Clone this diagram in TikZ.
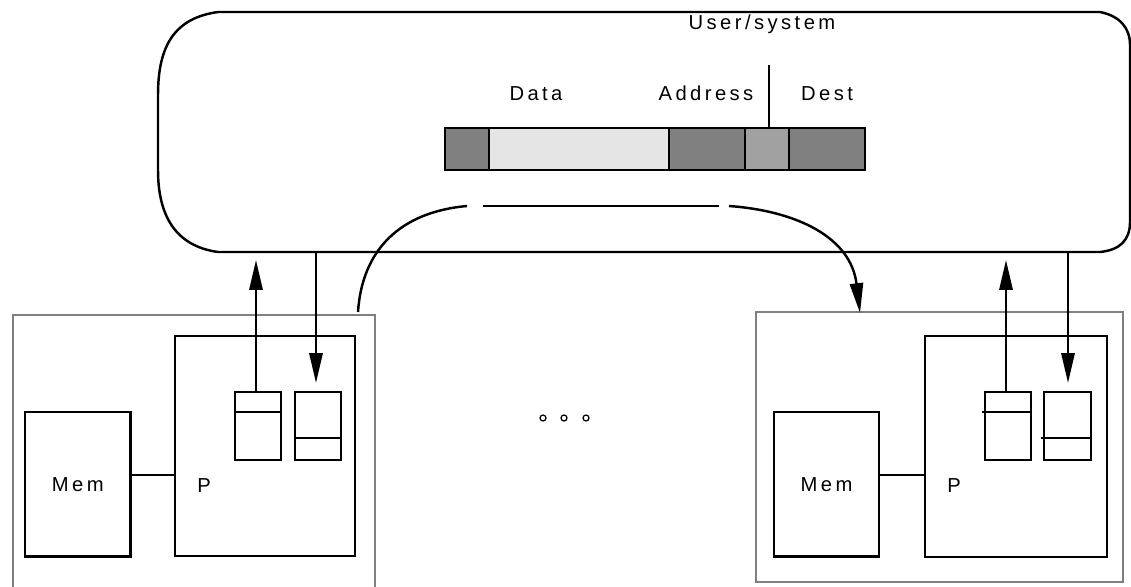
\documentclass[tikz,border=0pt]{standalone}
\usepackage{fontspec}
\newfontfamily\lblfont{Liberation Sans}[LetterSpace=17]
\usetikzlibrary{
	arrows.meta,
	positioning
}

\begin{document}
\begin{tikzpicture}[
	x=0.02cm, y=-0.02cm,
	txt/.style={font=\lblfont\fontsize{11.5}{13}\selectfont, inner sep=0pt},
	line/.style={line width=1.4pt, black},
	hostbox/.style={
		rectangle, draw=black!50, line width=1.3pt,
		anchor=north west, outer sep=0pt
	},
	procbox/.style={
		rectangle, draw, line width=1.4pt,
		anchor=north west, outer sep=0pt
	},
	membox/.style={procbox, txt, minimum width=2.11cm, minimum height=2.89cm},
	regbox/.style={procbox, minimum width=0.92cm, minimum height=1.36cm},
	field/.style={
		rectangle, draw, line width=1.4pt,
		minimum height=0.84cm, inner sep=0pt, outer sep=0pt
	},
	darkfield/.style={field, fill=black!50},
	arrow/.style={-{Triangle[length=17pt,width=7.5pt]}, line width=1.4pt, black},
	dot/.style={circle, draw, line width=0.7pt, minimum size=0.12cm, inner sep=0pt}
	]
	\useasboundingbox (0,0) rectangle (1131,586);
	
	% network
	\draw[line] (218,12) -- (1100,12)
		.. controls (1120,16) and (1130,28) .. (1130,45) -- (1130,222)
		.. controls (1130,240) and (1120,250) .. (1100,252) -- (218,252)
		.. controls (175,246) and (158,215) .. (158,170) -- (158,95)
		.. controls (158,45) and (175,18) .. cycle;
	
	% message
	\node[darkfield, minimum width=0.88cm, anchor=north west] (hdr) at (445,128) {};
	\node[field, fill=black!10, minimum width=3.6cm, right=0pt of hdr] (data) {};
	\node[darkfield, minimum width=1.52cm, right=0pt of data] (addr) {};
	\node[field, fill=black!37, minimum width=0.88cm, right=0pt of addr] (usr) {};
	\node[darkfield, minimum width=1.52cm, right=0pt of usr] (dest) {};
	
	% field labels
	\node[txt, anchor=base] (dataLbl) at (536,100) {Data};
	\node[txt, anchor=base] (addrLbl) at (706,100) {Address};
	\node[txt, anchor=base] (destLbl) at (827,100) {Dest};
	\node[txt, anchor=base] (usrLbl) at (762,29) {User/system};
	\coordinate (tick) at (769,65);
	\draw[line] (tick) -- (tick |- usr.north);
	
	% left node
	\node[hostbox, minimum width=7.24cm, minimum height=5.9cm] (hostL) at (13,315) {};
	\node[procbox, minimum width=3.6cm, minimum height=4.4cm] (procL) at (175,336) {};
	\node[membox] (memL) at (25,412) {Mem};
	\node[txt] (pL) at (204,486) {P};
	\node[regbox] (sendL) at (235,392) {};
	\node[regbox] (recvL) at (295,392) {};
	\draw[line] ([yshift=-0.4cm]sendL.north west) -- ([yshift=-0.4cm]sendL.north east);
	\draw[line] ([yshift=-0.92cm]recvL.north west) -- ([yshift=-0.92cm]recvL.north east);
	\draw[line] ([yshift=0.19cm]memL.east) -- ([yshift=0.19cm]memL.east -| procL.west);
	
	% right node
	\node[hostbox, minimum width=7.34cm, minimum height=5.4cm] (hostR) at (756,312) {};
	\node[procbox, minimum width=3.64cm, minimum height=4.42cm] (procR) at (925,336) {};
	\node[membox, minimum width=2.1cm] (memR) at (774,412) {Mem};
	\node[txt] (pR) at (954,486) {P};
	\node[regbox] (sendR) at (985,392) {};
	\node[regbox, minimum width=0.94cm] (recvR) at (1044,392) {};
	\draw[line] ([yshift=-0.4cm,xshift=-2pt]sendR.north west) -- ([yshift=-0.4cm]sendR.north east);
	\draw[line] ([yshift=-0.92cm,xshift=-2pt]recvR.north west) -- ([yshift=-0.92cm]recvR.north east);
	\draw[line] ([yshift=0.19cm]memR.east) -- ([yshift=0.19cm]memR.east -| procR.west);
	
	% send and receive
	\coordinate (upL) at (256,260);
	\coordinate (dnL) at (316,252);
	\coordinate (upR) at (1006,260);
	\coordinate (dnR) at (1068,252);
	\draw[arrow] (sendL.north -| upL) -- (upL);
	\draw[arrow, shorten >=0.18cm] (dnL) -- (recvL.north -| dnL);
	\draw[arrow] (sendR.north -| upR) -- (upR);
	\draw[arrow, shorten >=0.18cm] (dnR) -- (recvR.north -| dnR);
	
	% message path
	\coordinate (outL) at (358,312);
	\coordinate (inR) at (860,313);
	\draw[line] (outL) .. controls (362,250) and (400,212) .. (467,206);
	\draw[line] (483,206) -- (719,206);
	\draw[arrow] (729,206) .. controls (798,211) and (851,238) .. (inR);
	
	% more nodes
	\foreach \x in {543,564,586}
		\node[dot] (dot\x) at (\x,418) {};
\end{tikzpicture}
\end{document}
